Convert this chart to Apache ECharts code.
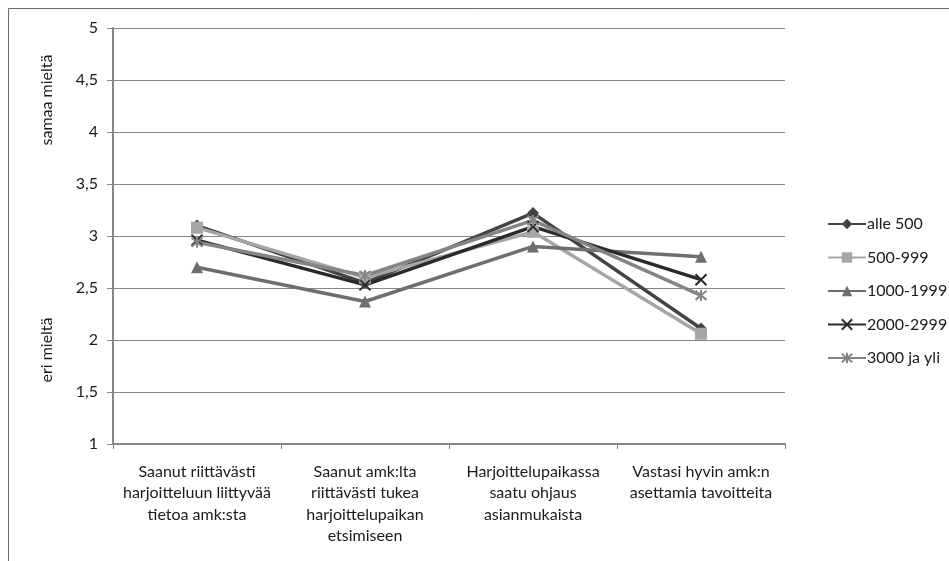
<!DOCTYPE html>
<html><head><meta charset="utf-8">
<script src="https://cdn.jsdelivr.net/npm/echarts@6/dist/echarts.min.js"></script>
<style>html,body{margin:0;padding:0;background:#fff}#c{width:949px;height:561px}</style>
</head><body><div id="c"></div>
<script>
var categories = ["Saanut riittävästi\nharjoitteluun liittyvää\ntietoa amk:sta", "Saanut amk:lta\nriittävästi tukea\nharjoittelupaikan\netsimiseen", "Harjoittelupaikassa\nsaatu ohjaus\nasianmukaista", "Vastasi hyvin amk:n\nasettamia tavoitteita"];
var seriesNames = ["alle 500", "500-999", "1000-1999", "2000-2999", "3000 ja yli"];
var alle500 = [3.10, 2.55, 3.22, 2.11];
var v500_999 = [3.08, 2.60, 3.04, 2.06];
var v1000_1999 = [2.70, 2.37, 2.90, 2.80];
var v2000_2999 = [2.96, 2.53, 3.09, 2.58];
var v3000 = [2.94, 2.62, 3.15, 2.43];
var yTicks = [1, 1.5, 2, 2.5, 3, 3.5, 4, 4.5, 5];

var FONT = 'Lato';
var colors = ['#434343', '#a6a6a6', '#6e6e6e', '#2a2a2a', '#858585'];
var xPath = 'path://M0,0L10,10M0,10L10,0';
var starPath = 'path://M0,0L10,10M0,10L10,0M5,-1L5,11';
var symbols = ['diamond', 'rect', 'triangle', xPath, starPath];
var sizes = [12, 12, 12, 11, 11];
var datas = [alle500, v500_999, v1000_1999, v2000_2999, v3000];

var series = datas.map(function (d, i) {
  var stroked = i >= 3;
  return {
    name: seriesNames[i], type: 'line', data: d,
    symbol: symbols[i], symbolSize: sizes[i], showAllSymbol: true,
    lineStyle: { color: colors[i], width: 3.5 },
    itemStyle: stroked ? { color: 'transparent', borderColor: colors[i], borderWidth: 2 } : { color: colors[i], borderWidth: 0 },
    emphasis: { disabled: true }, animation: false
  };
});

var chart = echarts.init(document.getElementById('c'));
chart.setOption({
  animation: false,
  color: colors,
  grid: { left: 113, right: 164, top: 28, bottom: 117 },
  xAxis: {
    type: 'category', data: categories, boundaryGap: true,
    axisLine: { lineStyle: { color: '#868686', width: 2 } },
    axisTick: { show: true, length: 5, lineStyle: { color: '#868686', width: 1 } },
    axisLabel: { color: '#1a1a1a', fontFamily: FONT, fontSize: 16, lineHeight: 21.5, margin: 17, interval: 0 }
  },
  yAxis: {
    type: 'value', min: yTicks[0], max: yTicks[yTicks.length - 1], interval: 0.5,
    axisLine: { show: true, lineStyle: { color: '#868686', width: 2 } },
    axisTick: { show: true, length: 6, lineStyle: { color: '#868686' } },
    splitLine: { lineStyle: { color: '#868686', width: 1 } },
    axisLabel: { color: '#1a1a1a', fontFamily: FONT, fontSize: 16, margin: 15,
      formatter: function (v) { return String(v).replace('.', ','); } }
  },
  legend: {
    orient: 'vertical', left: 822, top: 211, itemWidth: 38, itemHeight: 13, itemGap: 17.5,
    textStyle: { color: '#1a1a1a', fontFamily: FONT, fontSize: 16, padding: [0, 0, 0, -4] },
    data: seriesNames
  },
  graphic: [
    { type: 'rect', shape: { x: 8.5, y: 8.5, width: 1000, height: 600 }, style: { fill: 'none', stroke: '#6a6a6a', lineWidth: 1 }, silent: true },
    { type: 'text', x: 47, y: 100, rotation: Math.PI / 2, style: { text: 'samaa mieltä', fill: '#1a1a1a', font: '16px ' + FONT, textAlign: 'center', textVerticalAlign: 'middle' } },
    { type: 'text', x: 47, y: 350, rotation: Math.PI / 2, style: { text: 'eri mieltä', fill: '#1a1a1a', font: '16px ' + FONT, textAlign: 'center', textVerticalAlign: 'middle' } }
  ],
  series: series
});
</script></body></html>
